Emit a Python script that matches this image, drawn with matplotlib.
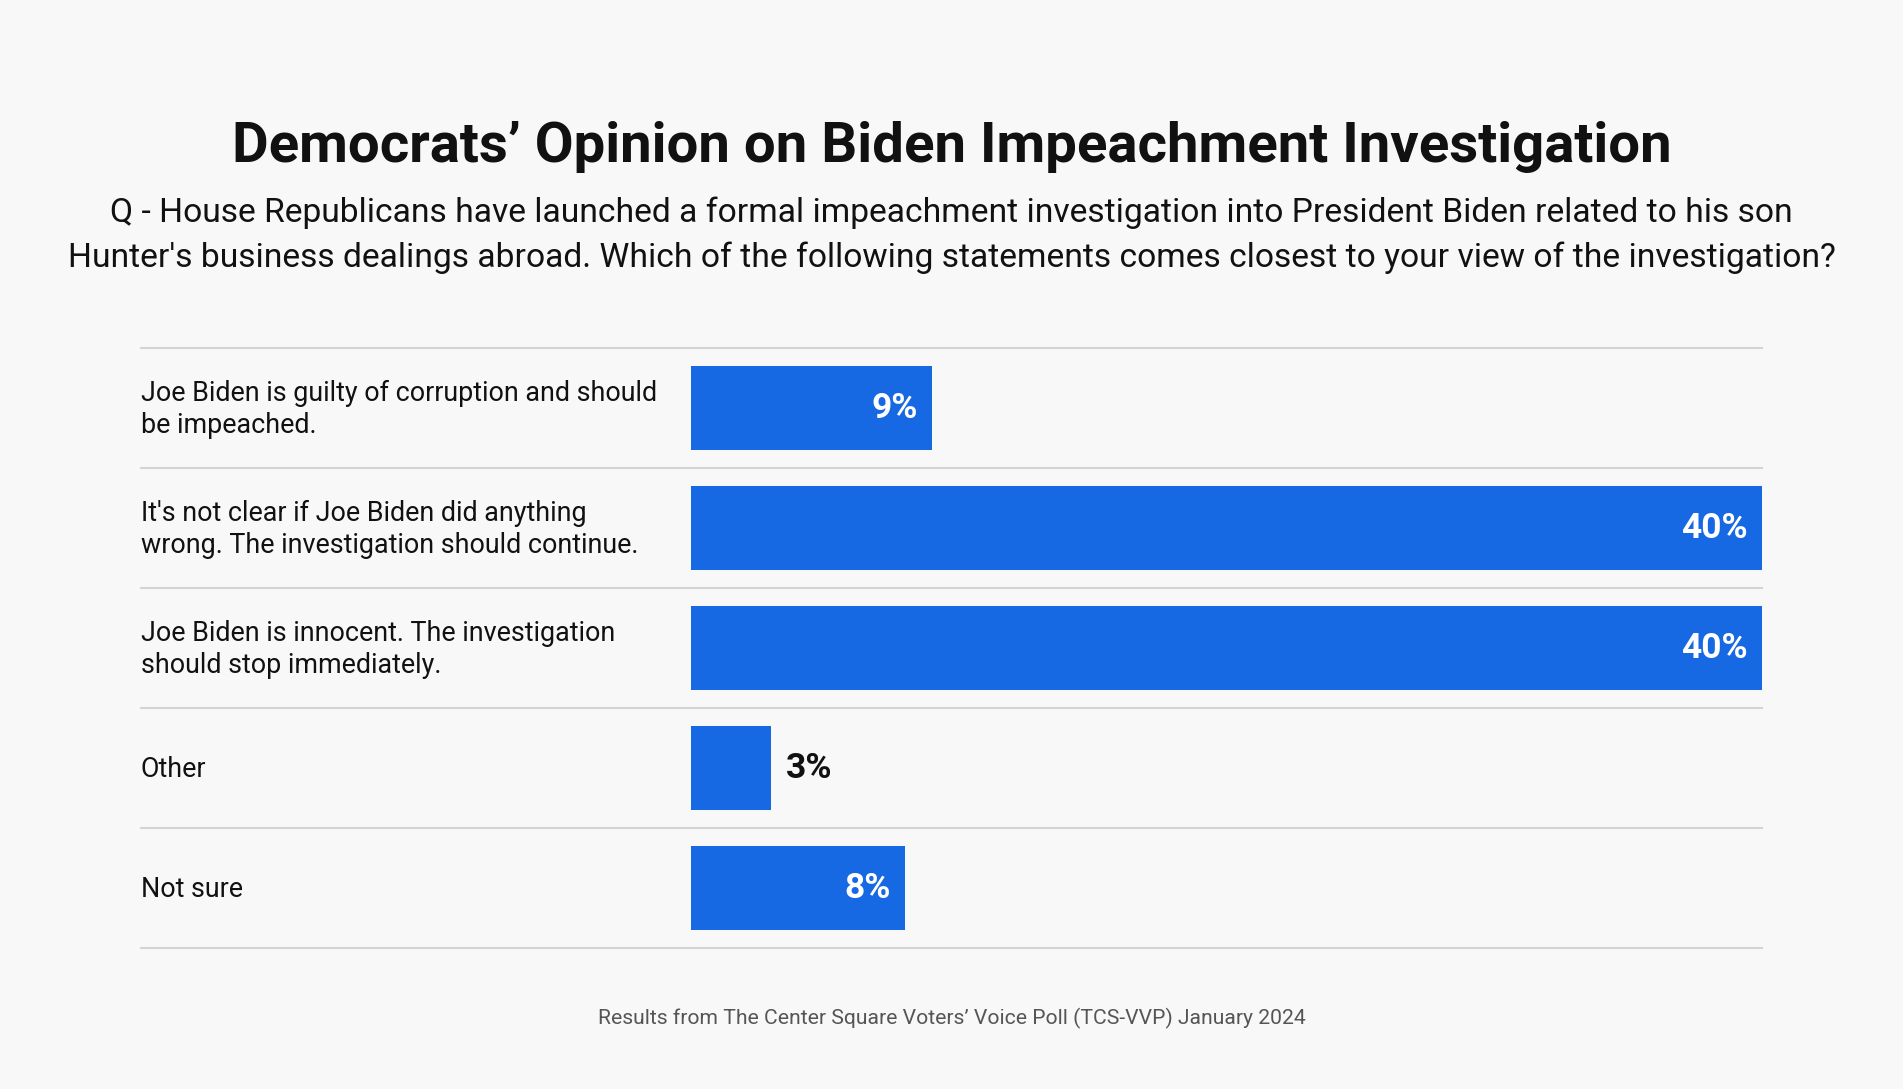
import matplotlib
matplotlib.use("Agg")
import matplotlib.pyplot as plt

# data
categories = [
    "Joe Biden is guilty of corruption and should\nbe impeached.",
    "It's not clear if Joe Biden did anything\nwrong. The investigation should continue.",
    "Joe Biden is innocent. The investigation\nshould stop immediately.",
    "Other",
    "Not sure",
]
values = [9, 40, 40, 3, 8]

title = "Democrats\u2019 Opinion on Biden Impeachment Investigation"
subtitle = ("Q - House Republicans have launched a formal impeachment investigation into President Biden related to his son\n"
            "Hunter's business dealings abroad. Which of the following statements comes closest to your view of the investigation?")
footer = "Results from The Center Square Voters\u2019 Voice Poll (TCS-VVP) January 2024"

BG = "#f8f8f8"
BAR = "#1769e3"
LINE = "#d4d4d4"

plt.rcParams['font.family'] = ['Roboto', 'DejaVu Sans']

W, H = 1903, 1089
fig = plt.figure(figsize=(W / 100, H / 100), dpi=100, facecolor=BG)

# axes in pixel positions: left edge of labels to the end of the 40% bar
left_px, right_px = 141, 1762
top_px, bot_px = 348, 948
bar0_px = 690.6
ax = fig.add_axes([left_px / W, 1 - bot_px / H, (right_px - left_px) / W, (bot_px - top_px) / H])
ax.set_facecolor(BG)

xmax = max(values)
scale = (right_px - bar0_px) / xmax
xmin = -(bar0_px - left_px) / scale
ax.set_xlim(xmin, xmax)
ax.set_ylim(len(categories), 0)

ypos = [i + 0.5 for i in range(len(categories))]
ax.barh(ypos, values, height=0.7, color=BAR, left=0)

for y, v, cat in zip(ypos, values, categories):
    ax.text(xmin, y + 0.015, cat, ha='left', va='center', fontsize=19.4, color='#111111', linespacing=1.25)
    if v >= 6:
        ax.text(v - 14 / scale, y, f"{v}%", ha='right', va='center', fontsize=25.5,
                fontweight='bold', color='white')
    else:
        ax.text(v + 15 / scale, y, f"{v}%", ha='left', va='center', fontsize=25.5,
                fontweight='bold', color='#111111')

for i in range(len(categories) + 1):
    ax.axhline(i, color=LINE, lw=1.5, clip_on=False)

ax.axis('off')

fig.text(0.5, 1 - 147 / H, title, ha='center', va='center', fontsize=40.6, fontweight='bold', color='#111111')
fig.text(0.5, 1 - 235 / H, subtitle, ha='center', va='center', fontsize=24.2, color='#111111', linespacing=1.49)
fig.text(0.5, 1 - 1018 / H, footer, ha='center', va='center', fontsize=15.2, color='#555555')

fig.savefig("out.png", dpi=100, facecolor=BG)
